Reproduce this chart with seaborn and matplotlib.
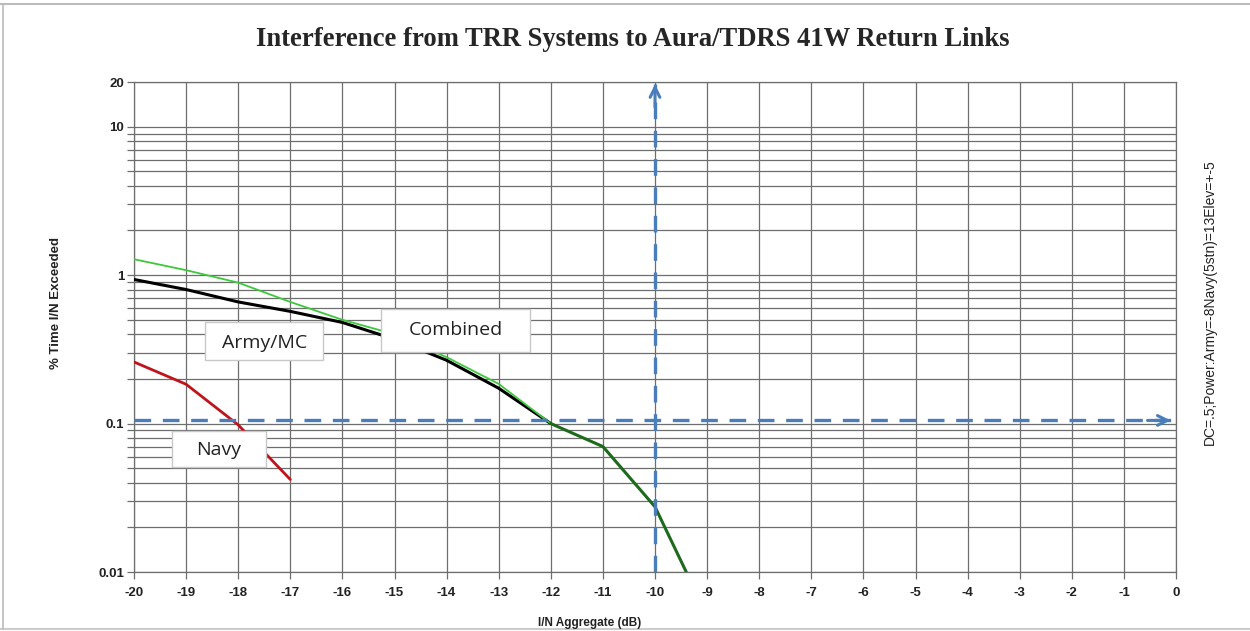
import numpy as np
import pandas as pd
import matplotlib.pyplot as plt
import seaborn as sns
from matplotlib.ticker import FixedLocator, NullFormatter
from matplotlib.patches import Rectangle
from matplotlib.lines import Line2D

# values
in_db = [-20, -19, -18, -17, -16, -15, -14, -13, -12, -11, -10, -9.4]
combined = [1.28, 1.08, 0.89, 0.66, 0.50, 0.40, 0.28, 0.185, 0.10, 0.070, 0.0275, 0.01]
army_mc = [0.935, 0.80, 0.66, 0.57, 0.48, 0.37, 0.267, 0.173, 0.10, 0.070, 0.0275, 0.01]
navy_db = [-20, -19, -18, -17]
navy = [0.26, 0.184, 0.098, 0.042]

y_ticks = [0.01, 0.1, 1, 10, 20]
y_ticklabels = ['0.01', '0.1', '1', '10', '20']
x_ticks = list(range(-20, 1))
thresh_in = -10
thresh_pct = 0.105

df = pd.DataFrame({'in_db': in_db, 'Combined': combined, 'Army/MC': army_mc})
df_navy = pd.DataFrame({'in_db': navy_db, 'Navy': navy})

sns.set_style('white')
fig = plt.figure(figsize=(12.5, 6.31), dpi=100)
ax = fig.add_axes([0.1072, 0.0935, 0.8336, 0.7765])

# curves split where Army/MC and Combined coincide (drawn dark green there)
split = df['in_db'] <= -12
sns.lineplot(data=df[split], x='in_db', y='Army/MC', color='black', lw=2.2, ax=ax, zorder=3)
sns.lineplot(data=df[split], x='in_db', y='Combined', color='#3cc83c', lw=1.3, ax=ax, zorder=3)
sns.lineplot(data=df[~split | (df['in_db'] == -12)], x='in_db', y='Combined', color='#1d6a1d',
             lw=2.2, ax=ax, zorder=3)
sns.lineplot(data=df_navy, x='in_db', y='Navy', color='#c0141c', lw=2, ax=ax, zorder=3)

ax.set_yscale('log')
ax.set_xlim(-20, 0)
ax.set_ylim(0.01, 20)
ax.set_xticks(x_ticks)
ax.set_xticklabels([str(v) for v in x_ticks])
ax.yaxis.set_major_locator(FixedLocator(y_ticks))
ax.set_yticklabels(y_ticklabels)
minor = [m * 10.0 ** e for e in (-2, -1, 0) for m in range(2, 10)]
ax.yaxis.set_minor_locator(FixedLocator(minor))
ax.yaxis.set_minor_formatter(NullFormatter())
ax.grid(True, which='both', axis='y', color='#6e6e6e', lw=0.9, zorder=0)
ax.grid(True, which='major', axis='x', color='#6e6e6e', lw=0.9, zorder=0)
ax.tick_params(axis='both', which='both', length=5, width=0.9, color='#6e6e6e',
               direction='out', left=True, bottom=True)
ax.tick_params(axis='x', pad=6)
ax.tick_params(axis='y', pad=2)
for lab in ax.get_xticklabels() + ax.get_yticklabels():
    lab.set_fontweight('bold')
    lab.set_fontsize(9.5)
    lab.set_fontfamily('Liberation Sans')
    lab.set_color('#222222')
for s in ax.spines.values():
    s.set_color('#6e6e6e')
    s.set_linewidth(0.9)
ax.set_xlabel('')
ax.set_ylabel('')

# threshold arrows
blue = '#4a7ebb'
ax.plot([-20, -0.1], [thresh_pct, thresh_pct], ls=(0, (5, 3.5)), color=blue, lw=2.4, zorder=4)
ax.plot([thresh_in, thresh_in], [0.01, 19.5], ls=(0, (5, 3.5)), color=blue, lw=2.4, zorder=4)
ax.annotate('', xy=(-0.05, thresh_pct), xytext=(-0.6, thresh_pct),
            arrowprops=dict(arrowstyle='->,head_length=0.7,head_width=0.35', color=blue, lw=2.2),
            zorder=5)
ax.annotate('', xy=(thresh_in, 20.2), xytext=(thresh_in, 13),
            arrowprops=dict(arrowstyle='->,head_length=0.7,head_width=0.35', color=blue, lw=2.2),
            zorder=5, annotation_clip=False)

# series labels in boxes: (x0, x1, y_bottom, y_top), text position
labels = [
    ('Army/MC', (-18.64, -16.37, 0.267, 0.482), (-17.49, 0.35)),
    ('Combined', (-15.26, -12.40, 0.303, 0.590), (-13.83, 0.425)),
    ('Navy', (-19.27, -17.47, 0.0508, 0.0889), (-18.37, 0.066)),
]
for name, (x0, x1, y0, y1), (tx, ty) in labels:
    ax.add_patch(Rectangle((x0, y0), x1 - x0, y1 - y0, fc='white', ec='#c8c8c8', lw=1, zorder=6))
    ax.text(tx, ty, name, fontsize=14, family='Open Sans', ha='center', va='center',
            color='#222222', zorder=7)

fig.text(0.506, 0.937, 'Interference from TRR Systems to Aura/TDRS 41W Return Links',
         ha='center', va='center', fontsize=19.2, fontweight='bold', family='Liberation Serif')
fig.text(0.472, 0.013, 'I/N Aggregate (dB)', ha='center', va='center', fontsize=8.5,
         fontweight='bold', family='Liberation Sans', color='#222222')
fig.text(0.045, 0.52, '% Time I/N Exceeded', ha='center', va='center', rotation=90,
         fontsize=9.5, fontweight='bold', family='Liberation Sans', color='#222222')
fig.text(0.968, 0.521, 'DC=.5;Power:Army=-8Navy(5stn)=13Elev=+-5', ha='center', va='center',
         rotation=90, fontsize=10, family='Liberation Sans', color='#222222')

# page frame lines
fig.lines.append(Line2D([0, 1], [0.9937, 0.9937], transform=fig.transFigure, color='#bbbbbb', lw=1.5))
fig.lines.append(Line2D([0, 1], [0.003, 0.003], transform=fig.transFigure, color='#cccccc', lw=1.5))
fig.lines.append(Line2D([0.0024, 0.0024], [0.003, 0.9937], transform=fig.transFigure,
                        color='#bbbbbb', lw=1.2))

fig.savefig('out.png', dpi=100)
